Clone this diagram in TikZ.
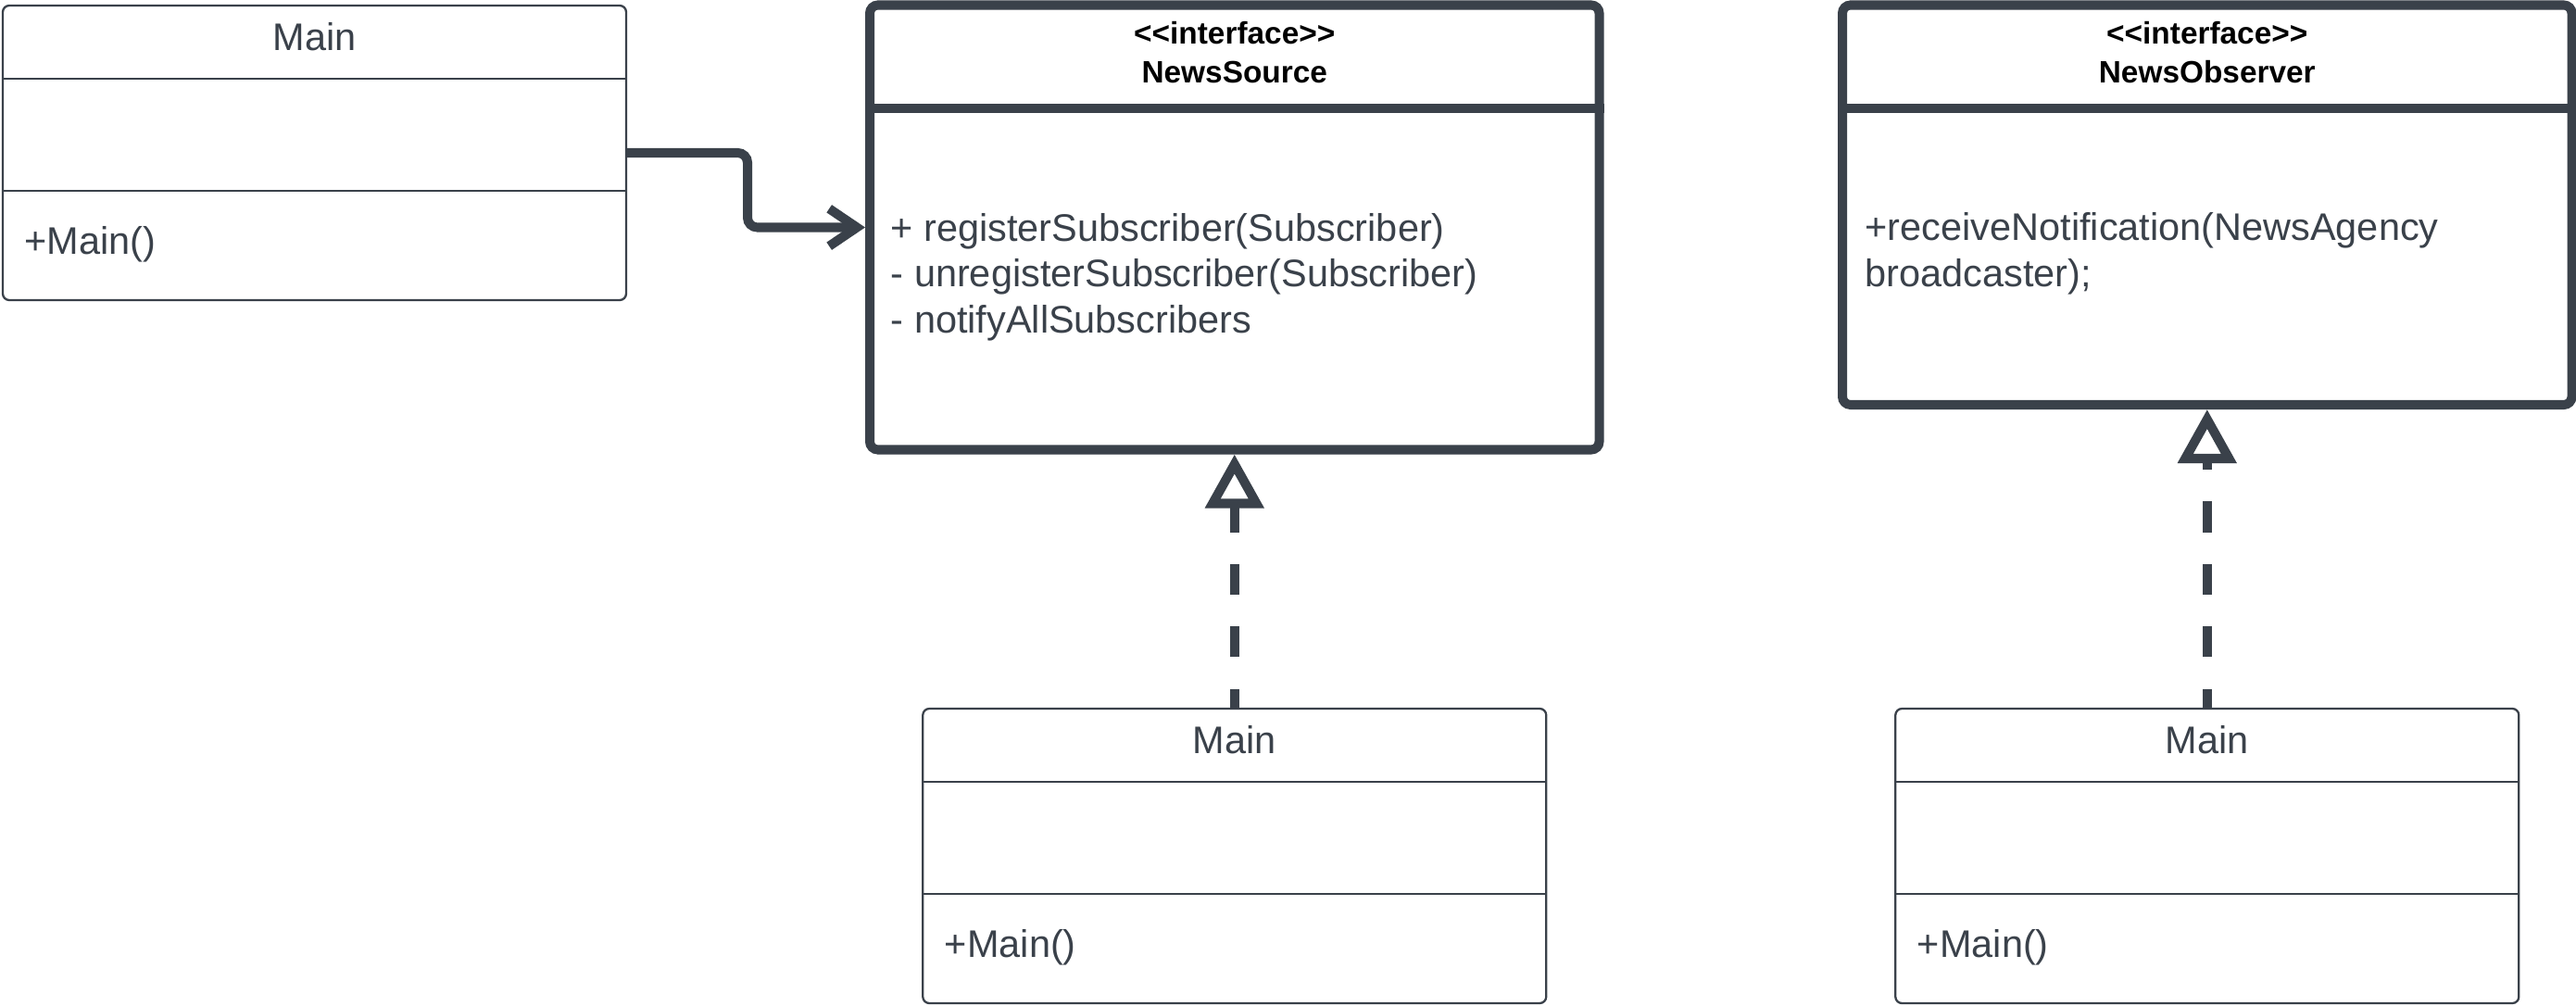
\documentclass[tikz,border=0pt]{standalone}
\usepackage{fontspec}
\setmainfont{Liberation Sans}
\usetikzlibrary{arrows.meta}
\definecolor{linegray}{HTML}{3A414A}
\definecolor{textgray}{HTML}{3A414A}
\tikzset{
  classbox/.style={draw=linegray, line width=0.65pt, rounded corners=2pt, inner sep=0pt, outer sep=0pt,
    minimum width=6.73cm, minimum height=3.18cm},
  ifacebox/.style={draw=linegray, line width=2.85pt, rounded corners=2.5pt, inner sep=0pt, outer sep=1.425pt,
    minimum width=7.875cm},
  thinline/.style={draw=linegray, line width=0.65pt},
  thickline/.style={draw=linegray, line width=2.85pt},
  bodytext/.style={inner sep=0pt, text=textgray, font=\fontsize{11.8pt}{14.1pt}\selectfont, align=left},
  headtext/.style={inner sep=0pt, text=black, font=\fontsize{9.5pt}{12.1pt}\selectfont\bfseries, align=center},
  assoc/.style={draw=linegray, line width=2.85pt, rounded corners=3pt, -{Straight Barb[length=8.5pt,width=11.5pt]}},
  realize/.style={draw=linegray, line width=2.85pt, dash pattern=on 9.4pt off 9.8pt, dash phase=3.4pt,
    -{Triangle[length=16.5pt,width=17.5pt,fill=white]}}
}
\begin{document}
\begin{tikzpicture}
  \useasboundingbox (0,0) rectangle (27.81,-10.86);

  % Main classes
  \foreach \n/\x/\y in {mainA/3.395/-1.65, mainB/13.3275/-9.24, mainC/23.8275/-9.24} {
    \node[classbox] (\n) at (\x,\y) {};
    \draw[thinline] ([yshift=-0.79cm]\n.north west) -- ([yshift=-0.79cm]\n.north east);
    \draw[thinline] ([yshift=-2.00cm]\n.north west) -- ([yshift=-2.00cm]\n.north east);
    \node[bodytext] (\n-name) at ([yshift=-0.34cm]\n.north) {Main};
    \node[bodytext, anchor=west] (\n-op) at ([xshift=0.23cm,yshift=-2.575cm]\n.north west) {+Main()};
  }

  % NewsSource interface
  \node[ifacebox, minimum height=4.80cm] (src) at (13.3275,-2.455) {};
  \draw[thickline] ([yshift=-1.165cm]src.north west) -- ([yshift=-1.165cm]src.north east);
  \node[headtext] (src-name) at (13.3275,-0.5675) {<\kern0pt<interface>\kern0pt>\\NewsSource};
  \node[bodytext, anchor=west] (src-ops) at (9.61,-2.99)
    {+ registerSubscriber(Subscriber)\\- unregisterSubscriber(Subscriber)\\- notifyAllSubscribers};

  % NewsObserver interface
  \node[ifacebox, minimum height=4.315cm] (obs) at (23.8275,-2.2125) {};
  \draw[thickline] ([yshift=-1.165cm]obs.north west) -- ([yshift=-1.165cm]obs.north east);
  \node[headtext] (obs-name) at (23.8275,-0.5675) {<\kern0pt<interface>\kern0pt>\\NewsObserver};
  \node[bodytext, anchor=west] (obs-ops) at (20.13,-2.74)
    {+receiveNotification(NewsAgency\\broadcaster);};

  % Connectors
  \coordinate (bend) at (8.07,0);
  \draw[assoc] (mainA.east) -- (mainA.east -| bend) |- (src.west);
  \draw[realize] (mainB.north) -- (src.south);
  \draw[realize] (mainC.north) -- (obs.south);
\end{tikzpicture}
\end{document}
